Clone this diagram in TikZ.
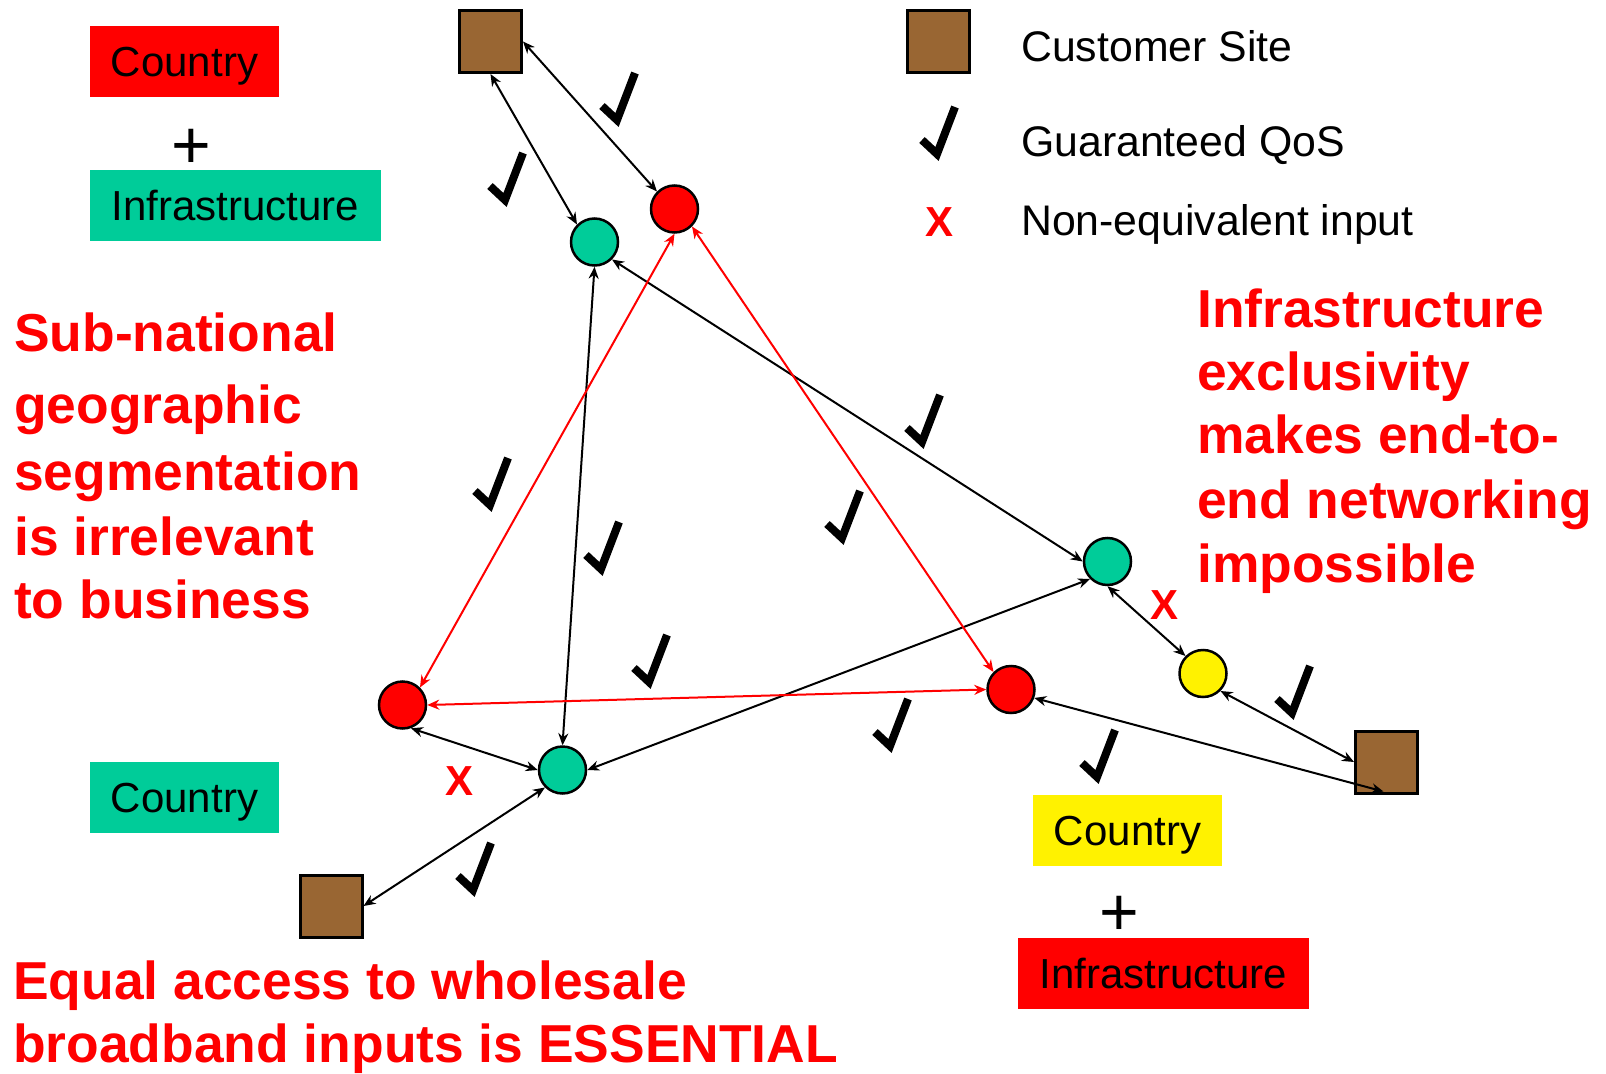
\documentclass[tikz,border=0pt]{standalone}
\usepackage{fontspec}
\setmainfont{Liberation Sans}
\usetikzlibrary{arrows.meta}
\definecolor{site}{HTML}{996633}
\definecolor{infra}{HTML}{00CC99}

\begin{document}
\begin{tikzpicture}[x=1pt, y=-1pt,
  csite/.style={draw, line width=3pt, fill=site, minimum size=62pt, inner sep=0pt},
  op/.style={circle, draw, line width=2.5pt, minimum size=47pt, inner sep=0pt},
  link/.style={<->, >={Stealth[length=12pt,width=10pt]}, line width=2pt},
  lbox/.style={inner sep=0pt, minimum height=71pt, text height=30pt, text depth=0pt, font=\fontsize{42}{50}\selectfont},
  legtxt/.style={anchor=base west, inner sep=0pt, font=\fontsize{42.8}{50}\selectfont},
  bigred/.style={anchor=base west, inner sep=0pt, text=red, font=\fontsize{53.4}{64}\selectfont\bfseries},
  nok/.style={inner sep=0pt, text=red, font=\fontsize{42}{50}\selectfont\bfseries},
  plus/.style={inner sep=0pt, font=\fontsize{68}{70}\selectfont},
  qos/.pic={\draw[line width=8pt] (-15,-14) -- (0,0) -- (18,-47);}]
\path[fill=white] (0,0) rectangle (1606,1073);

%Legende
\node[csite] (legsite) at (938.5,41.5) {};
\pic at (937,154) {qos};
\node[nok] (legx) at (939.5,222) {X};
\node[legtxt] (legt1) at (1021,62) {Customer Site};
\node[legtxt] (legt2) at (1021,157) {Guaranteed QoS};
\node[legtxt] (legt3) at (1021,236) {Non-equivalent input};

%Etiquettes
\node[lbox, fill=red, minimum width=189pt] (cnt1) at (184.5,61.5) {Country};
\node[plus] (plus1) at (191,149) {+};
\node[lbox, fill=infra, minimum width=291pt] (inf1) at (235.5,205.5) {Infrastructure};
\node[lbox, fill=infra, minimum width=189pt] (cnt2) at (184.5,797.5) {Country};
\node[lbox, fill=yellow, minimum width=189pt] (cnt3) at (1127.5,830) {Country};
\node[plus] (plus2) at (1119,916) {+};
\node[lbox, fill=red, minimum width=291pt] (inf3) at (1163.5,973.5) {Infrastructure};

%Sites
\node[csite] (csT) at (490.5,41.5) {};
\node[csite] (csBL) at (331,906) {};
\node[csite] (csBR) at (1386.5,762) {};

%Reseaux
\node[op, fill=infra] (gT) at (594.5,242) {};
\node[op, fill=red] (rT) at (674.5,209) {};
\node[op, fill=infra] (gR) at (1107.5,561.5) {};
\node[op, fill=yellow] (yR) at (1203,673.5) {};
\node[op, fill=red] (rR) at (1011,689.5) {};
\node[op, fill=red] (rL) at (402.5,705) {};
\node[op, fill=infra] (gB) at (562.5,770) {};

%Liens
\draw[link] (csT.south) -- (gT.north west);
\draw[link] (csT.east) -- (rT.north west);
\draw[link] (gT.south) -- (gB.north);
\draw[link] (gT.south east) -- (gR.west);
\draw[link] (gB.east) -- (gR.south west);
\draw[link] (rL.-70) -- (gB.west);
\draw[link] (csBL.east) -- (gB.south west);
\draw[link] (gR.south) -- (yR.north west);
\draw[link] (yR.south east) -- (csBR.west);
\draw[link] (rR.-20) -- ([xshift=-3pt,yshift=3pt]csBR.south);
\draw[link, red] (rT.south) -- (rL.north east);
\draw[link, red] (rT.south east) -- (rR.north west);
\draw[link, red] (rL.east) -- (rR.west);

%QoS
\foreach \px/\py in {617/120, 505/200, 490/505, 601/569, 649/682, 842/538,
                     922/442, 890/746, 1097/777, 1292/713, 473/890}
  \pic at (\px,\py) {qos};
\node[nok] (xL) at (460,781.5) {X};
\node[nok] (xR) at (1164,605) {X};

%Textes
\foreach \yy/\txt [count=\i] in {351/Sub-national, 423/geographic, 490/segmentation,
                                  555/is irrelevant, 618/to business}
  \node[bigred] (sub\i) at (14,\yy) {\txt};
\foreach \yy/\txt [count=\i] in {327/Infrastructure, 390/exclusivity, 453/makes end-to-,
                                  518/end networking, 582/impossible}
  \node[bigred] (exc\i) at (1197,\yy) {\txt};
\node[bigred] (eq1) at (13,999) {Equal access to wholesale};
\node[bigred] (eq2) at (13,1062) {broadband inputs is ESSENTIAL};

\end{tikzpicture}
\end{document}
